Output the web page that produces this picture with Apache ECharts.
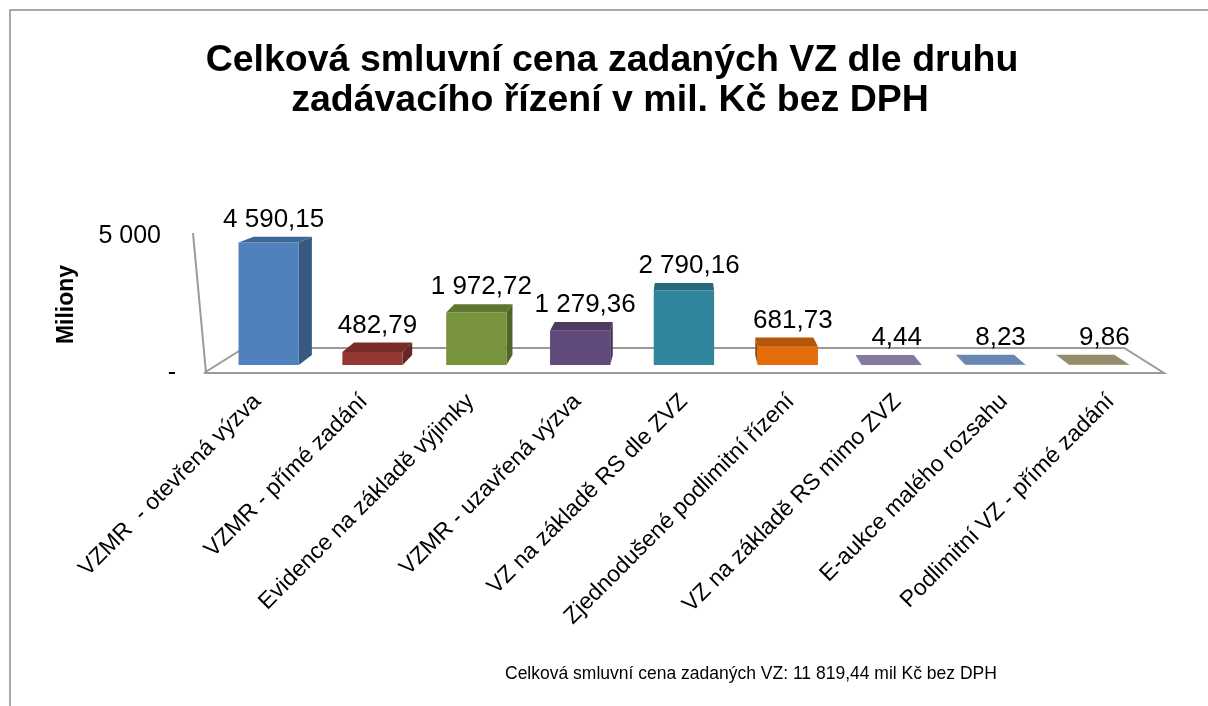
<!DOCTYPE html>
<html>
<head>
<meta charset="utf-8">
<script src="https://cdn.jsdelivr.net/npm/echarts@6/dist/echarts.min.js"></script>
<style>
html, body { margin: 0; padding: 0; background: #fff; }
#main { width: 1208px; height: 706px; }
</style>
</head>
<body>
<div id="main"></div>
<script>
// data
var categories = [
    'VZMR  - otevřená výzva',
    'VZMR - přímé zadání',
    'Evidence na základě výjimky',
    'VZMR - uzavřená výzva',
    'VZ na základě RS dle ZVZ',
    'Zjednodušené podlimitní řízení',
    'VZ na základě RS mimo ZVZ',
    'E-aukce malého rozsahu',
    'Podlimitní VZ - přímé zadání'
];
var values = [4590.15, 482.79, 1972.72, 1279.36, 2790.16, 681.73, 4.44, 8.23, 9.86];
var yTickValues = [0, 5000];
var yTickLabels = ['-', '5 000'];
var titleLines = ['Celková smluvní cena zadaných VZ dle druhu', 'zadávacího řízení v mil. Kč bez DPH'];
var footnote = 'Celková smluvní cena zadaných VZ: 11 819,44 mil Kč bez DPH';

// barvy sloupců (přední stěna)
var barColors = ['#4F81BD', '#953735', '#77933C', '#604A7B', '#31859C', '#E46C0A', '#A898C6', '#83A9E0', '#B8B085'];

var FONT = '"Liberation Sans", Arial, sans-serif';
// perspektiva (napodobení 3D sloupců z Excelu)
var S_FRONT = 0.9735, S_BACK = 0.9404, S_FLOOR = 0.917, VP_DY = 302;

function shade(hex, f) {
    var n = parseInt(hex.slice(1), 16);
    var r = Math.round(((n >> 16) & 255) * f);
    var g = Math.round(((n >> 8) & 255) * f);
    var b = Math.round((n & 255) * f);
    return 'rgb(' + r + ',' + g + ',' + b + ')';
}

function fmt(v) {
    var parts = v.toFixed(2).split('.');
    return parts[0].replace(/\B(?=(\d{3})+(?!\d))/g, ' ') + ',' + parts[1];
}

function vanish(api) {
    var a = api.coord([0, 0]);
    var z = api.coord([categories.length - 1, 0]);
    return [(a[0] + z[0]) / 2, a[1] - VP_DY];
}

function proj(vp, x, y, s) {
    return [vp[0] + (x - vp[0]) * s, vp[1] + (y - vp[1]) * s];
}

function renderBar(params, api) {
    var i = api.value(0), v = api.value(1);
    var top = api.coord([i, v]);
    var base = api.coord([i, 0]);
    var half = api.size([1, 0])[0] * 0.29;
    var vp = vanish(api);
    var xl = top[0] - half, xr = top[0] + half;

    var fLT = proj(vp, xl, top[1], S_FRONT), fRT = proj(vp, xr, top[1], S_FRONT);
    var fLB = proj(vp, xl, base[1], S_FRONT), fRB = proj(vp, xr, base[1], S_FRONT);
    var bLT = proj(vp, xl, top[1], S_BACK), bRT = proj(vp, xr, top[1], S_BACK);
    var bLB = proj(vp, xl, base[1], S_BACK), bRB = proj(vp, xr, base[1], S_BACK);

    var col = barColors[i];
    var side = top[0] < vp[0] ? [fRB, fRT, bRT, bRB] : [fLB, fLT, bLT, bLB];

    return {
        type: 'group',
        children: [
            { type: 'polygon', shape: { points: side }, style: { fill: shade(col, 0.68) } },
            { type: 'polygon', shape: { points: [fLT, fRT, fRB, fLB] }, style: { fill: col } },
            { type: 'polygon', shape: { points: [fLT, fRT, bRT, bLT] }, style: { fill: shade(col, 0.8) } },
            {
                type: 'text',
                x: (fLT[0] + fRT[0]) / 2 + 5,
                y: Math.min(bLT[1], bRT[1]) - 4,
                style: {
                    text: fmt(v),
                    textAlign: 'center',
                    textVerticalAlign: 'bottom',
                    font: '26px ' + FONT,
                    fill: '#000'
                }
            }
        ]
    };
}

function renderFloor(params, api) {
    var vp = vanish(api);
    var band = api.size([1, 0])[0];
    var a = api.coord([0, 0]);
    var z = api.coord([categories.length - 1, 0]);
    var t = api.coord([0, yTickValues[yTickValues.length - 1]]);
    var L = a[0] - band / 2, R = z[0] + band / 2, y0 = a[1];
    var bl = proj(vp, L, y0, S_FLOOR), br = proj(vp, R, y0, S_FLOOR);
    return {
        type: 'group',
        children: [
            {
                type: 'polyline',
                shape: { points: [[L, y0], [R, y0], br, bl, [L, y0]] },
                style: { stroke: '#9a9a9a', lineWidth: 2, fill: null }
            },
            {
                type: 'line',
                shape: { x1: L + 2, y1: y0, x2: L - 11, y2: t[1] - 3 },
                style: { stroke: '#9a9a9a', lineWidth: 2 }
            }
        ]
    };
}

var chart = echarts.init(document.getElementById('main'));

var option = {
    backgroundColor: '#fff',
    animation: false,
    grid: { left: 204, right: 44, top: 236, bottom: 333 },
    xAxis: {
        type: 'category',
        data: categories,
        axisLine: { show: false },
        axisTick: { show: false },
        axisLabel: {
            rotate: 45,
            margin: 25,
            interval: 0,
            color: '#000',
            fontSize: 23,
            fontFamily: FONT
        }
    },
    yAxis: {
        type: 'value',
        min: 0,
        max: 5000,
        interval: 5000,
        name: 'Miliony',
        nameLocation: 'middle',
        nameGap: 126,
        nameRotate: 90,
        nameTextStyle: { color: '#000', fontSize: 23, fontWeight: 'bold', fontFamily: FONT },
        axisLine: { show: false },
        axisTick: { show: false },
        splitLine: { show: false },
        axisLabel: {
            margin: 28,
            color: '#000',
            fontSize: 25,
            fontFamily: FONT,
            formatter: function (val) {
                var k = yTickValues.indexOf(val);
                if (k < 0) return '';
                return val === 0 ? '{z|' + yTickLabels[k] + '}' : '{n|' + yTickLabels[k] + '}';
            },
            rich: {
                z: { fontSize: 25, fontFamily: FONT, color: '#000' },
                n: { fontSize: 25, fontFamily: FONT, color: '#000', padding: [0, 15, 0, 0] }
            }
        }
    },
    series: [
        {
            type: 'custom',
            name: 'floor',
            silent: true,
            z: 1,
            renderItem: renderFloor,
            data: [[0, 0]]
        },
        {
            type: 'custom',
            name: 'Celková smluvní cena',
            z: 2,
            renderItem: renderBar,
            encode: { x: 0, y: 1 },
            data: values.map(function (v, i) { return [i, v]; })
        }
    ],
    graphic: [
        {
            type: 'rect',
            shape: { x: 10, y: 10, width: 1210, height: 710 },
            style: { fill: null, stroke: '#8c8c8c', lineWidth: 1.5 },
            z: 0
        },
        {
            type: 'text',
            x: 612, y: 61,
            style: { text: titleLines[0], textAlign: 'center', textVerticalAlign: 'middle', font: 'bold 37.5px ' + FONT, fill: '#000' }
        },
        {
            type: 'text',
            x: 610, y: 101,
            style: { text: titleLines[1], textAlign: 'center', textVerticalAlign: 'middle', font: 'bold 37.5px ' + FONT, fill: '#000' }
        },
        {
            type: 'text',
            x: 505, y: 674,
            style: { text: footnote, textAlign: 'left', textVerticalAlign: 'middle', font: '17.5px ' + FONT, fill: '#000' }
        }
    ]
};

chart.setOption(option);
</script>
</body>
</html>
